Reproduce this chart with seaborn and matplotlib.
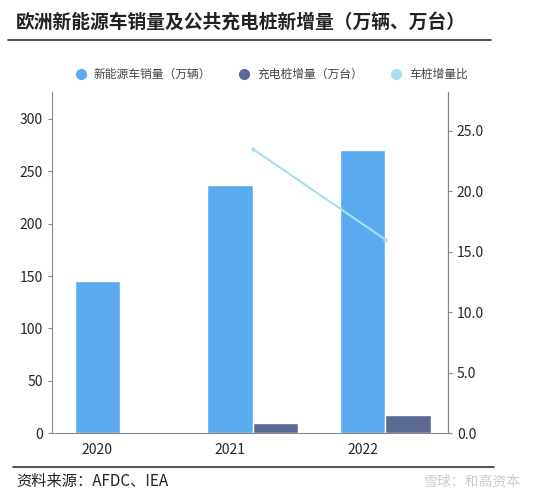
import matplotlib
matplotlib.use("Agg")
import matplotlib.pyplot as plt
import seaborn as sns
import pandas as pd
from matplotlib.lines import Line2D

years = ["2020", "2021", "2022"]
ev_sales = [145, 237, 270]
chargers = [0, 10, 17]
ratio_years = ["2021", "2022"]
ratio = [23.5, 16.0]
series_names = ["新能源车销量（万辆）", "充电桩增量（万台）", "车桩增量比"]
colors = ["#5AABF0", "#5A6A94", "#A8DFF0"]

sns.set_style("white")
plt.rcParams['font.family'] = ['Noto Sans CJK SC', 'DejaVu Sans']

idx = list(range(len(years)))
df = pd.DataFrame({"x": [i + 0.17 for i in idx] * 2,
                   "value": ev_sales + chargers,
                   "series": [series_names[0]] * 3 + [series_names[1]] * 3})

fig = plt.figure(figsize=(5.37, 5.03), dpi=100)
ax = fig.add_axes([0.097, 0.139, 0.737, 0.678])
sns.barplot(data=df, x="x", y="value", hue="series", palette=colors[:2], native_scale=True,
            width=0.68, ax=ax, legend=False, saturation=1)
ax.set_xticks(idx)
ax.set_xticklabels(years)
ax.set_xlim(-0.34, 2.64)
ax.set_ylim(0, 325.7)
ax.set_yticks([0, 50, 100, 150, 200, 250, 300])
ax.set_xlabel(""); ax.set_ylabel("")
ax.spines["top"].set_visible(False)
for s in ["left", "bottom", "right"]:
    ax.spines[s].set_color("#888888")
ax.tick_params(axis="y", left=True, length=3, color="#888888", labelsize=10)
ax.tick_params(axis="x", bottom=False, labelsize=10)

ax2 = ax.twinx()
xpos = [years.index(y) + 0.17 for y in ratio_years]
sns.lineplot(x=xpos, y=ratio, ax=ax2, color=colors[2], marker="o", markersize=3,
             markeredgewidth=0, linewidth=1.5)
ax2.set_ylim(0, 28.2)
ax2.set_yticks([0, 5, 10, 15, 20, 25])
ax2.set_yticklabels([f"{v:.1f}" for v in [0, 5, 10, 15, 20, 25]])
ax2.tick_params(axis="y", right=True, length=3, color="#888888", labelsize=10)
for s in ["top", "left", "bottom"]:
    ax2.spines[s].set_visible(False)
ax2.spines["right"].set_color("#888888")

handles = [Line2D([], [], marker="o", linestyle="", markersize=7, color=c) for c in colors]
fig.legend(handles, series_names, loc="center", bbox_to_anchor=(0.5, 0.852), ncol=3,
           frameon=False, fontsize=8.5, handletextpad=0.1, columnspacing=1.8,
           labelcolor="#444444")

fig.text(0.03, 0.955, "欧洲新能源车销量及公共充电桩新增量（万辆、万台）", fontsize=13.5,
         fontweight="bold", va="center", ha="left", color="#222222")
fig.add_artist(Line2D([0.015, 0.915], [0.921, 0.921], color="#333333", linewidth=1.2))
fig.add_artist(Line2D([0.025, 0.92], [0.072, 0.072], color="#333333", linewidth=1.2))
fig.text(0.03, 0.043, "资料来源：AFDC、IEA", fontsize=11, style="italic", va="center",
         color="#222222")
fig.text(0.97, 0.043, "雪球：和高资本", fontsize=10, va="center", ha="right", color="#cccccc")

fig.savefig("out.png", dpi=100)
